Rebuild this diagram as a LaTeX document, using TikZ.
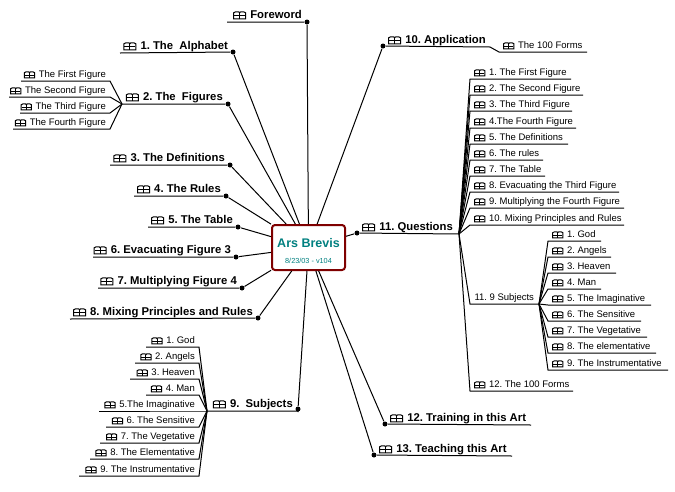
\documentclass[tikz,border=0pt]{standalone}
\usepackage{fontspec}
\setmainfont{Liberation Sans}
\frenchspacing
\definecolor{rootred}{HTML}{7F0000}
\definecolor{rootteal}{HTML}{008080}
\newcommand{\bookicon}[1][1]{\tikz[baseline=0pt,x=#1pt,y=#1pt,line width=1pt,line join=miter]{
  \draw (0,0) -- (0,6) -- (2,7) -- (5,7) -- (6,6) -- (7,7) -- (10,7) -- (12,6) -- (12,0) -- cycle;
  \draw (6,0) -- (6,6);
  \draw (.5,3) -- (11.5,3);
}\hspace{1pt}}
\tikzset{
  topic/.style={font=\fontsize{11.3}{13}\selectfont\bfseries,inner xsep=5pt,inner ysep=3pt,text depth=0pt},
  leaf/.style={font=\fontsize{9.5}{11}\selectfont,inner xsep=4pt,inner ysep=3pt,text depth=0pt},
  knob/.style={circle,fill=black,inner sep=0pt,minimum size=5pt},
  rootbox/.style={draw=rootred,line width=2pt,rounded corners=3pt,fill=white,minimum width=73pt,minimum height=45pt,inner sep=0pt},
  roottext/.style={anchor=base,text=rootteal,inner sep=0pt}
}
\begin{document}
\begin{tikzpicture}[x=1pt,y=-1pt,line width=1pt]
  \useasboundingbox (0,0) rectangle (675,491);

  \node[rootbox] (root) at (308.5,247.5) {};
  \node[roottext,font=\fontsize{12.5}{15}\selectfont\bfseries] (roottitle) at (308.5,247) {Ars Brevis};
  \node[roottext,font=\fontsize{7.3}{8}\selectfont] (rootdate) at (308.5,263) {8/23/03 - v104};

  % left side
  \node[knob] (foreword) at (307,22) {};
  \node[topic,anchor=south east] (forewordtxt) at (307,22) {\bookicon{} Foreword};
  \coordinate (forewordend) at (227,22);
  \draw (forewordend) -- (foreword) -- (root);

  \node[knob] (alphabet) at (233,52) {};
  \node[topic,anchor=south east] (alphabettxt) at (233,53) {\bookicon{} 1. The\ \ Alphabet};
  \coordinate (alphabetend) at (120,53);
  \draw (alphabetend) -- (alphabet) -- (root);

  \node[knob] (figures) at (228,104) {};
  \node[topic,anchor=south east] (figurestxt) at (228,104) {\bookicon{} 2. The\ \ Figures};
  \coordinate (forktwo) at (122,104);
  \draw (forktwo) -- (figures) -- (root);

  \node[leaf,anchor=south east] (lfa) at (110,81) {\bookicon[.85]{} The First Figure};
  \coordinate (lfaend) at (21,81);
  \draw (forktwo) -- (lfa.south east) -- (lfaend);
  \node[leaf,anchor=south east] (lfb) at (110,97) {\bookicon[.85]{} The Second Figure};
  \coordinate (lfbend) at (9,97);
  \draw (forktwo) -- (lfb.south east) -- (lfbend);
  \node[leaf,anchor=south east] (lfc) at (110,113) {\bookicon[.85]{} The Third Figure};
  \coordinate (lfcend) at (20,113);
  \draw (forktwo) -- (lfc.south east) -- (lfcend);
  \node[leaf,anchor=south east] (lfd) at (110,129) {\bookicon[.85]{} The Fourth Figure};
  \coordinate (lfdend) at (13,129);
  \draw (forktwo) -- (lfd.south east) -- (lfdend);

  \node[knob] (definitions) at (230,165) {};
  \node[topic,anchor=south east] (definitionstxt) at (230,165) {\bookicon{} 3. The Definitions};
  \coordinate (definitionsend) at (110,165);
  \draw (definitionsend) -- (definitions) -- (root);

  \node[knob] (rules) at (226,196) {};
  \node[topic,anchor=south east] (rulestxt) at (226,196) {\bookicon{} 4. The Rules};
  \coordinate (rulesend) at (134,196);
  \draw (rulesend) -- (rules) -- (root);

  \node[knob] (tablenode) at (238,227) {};
  \node[topic,anchor=south east] (tabletxt) at (238,227) {\bookicon{} 5. The Table};
  \coordinate (tableend) at (148,227);
  \draw (tableend) -- (tablenode) -- (root);

  \node[knob] (evacuating) at (236,257) {};
  \node[topic,anchor=south east] (evacuatingtxt) at (236,257) {\bookicon{} 6. Evacuating Figure 3};
  \coordinate (evacuatingend) at (93,257);
  \draw (evacuatingend) -- (evacuating) -- (root);

  \node[knob] (multiplying) at (242,288) {};
  \node[topic,anchor=south east] (multiplyingtxt) at (242,288) {\bookicon{} 7. Multiplying Figure 4};
  \coordinate (multiplyingend) at (98,288);
  \draw (multiplyingend) -- (multiplying) -- (root);

  \node[knob] (mixing) at (258,318) {};
  \node[topic,anchor=south east] (mixingtxt) at (258,319) {\bookicon{} 8. Mixing Principles and Rules};
  \coordinate (mixingend) at (70,319);
  \draw (mixingend) -- (mixing) -- (root);

  \node[knob] (subjects) at (298,409) {};
  \node[topic,anchor=south east] (subjectstxt) at (298,411) {\bookicon{} 9.\ \ Subjects};
  \coordinate (forknine) at (207,411);
  \draw (forknine) -- (subjectstxt.south east) -- (subjects) -- (root);

  \node[leaf,anchor=south east] (lsa) at (199,347) {\bookicon[.85]{} 1. God};
  \coordinate (lsaend) at (146,347);
  \draw (forknine) -- (lsa.south east) -- (lsaend);
  \node[leaf,anchor=south east] (lsb) at (199,363) {\bookicon[.85]{} 2. Angels};
  \coordinate (lsbend) at (135,363);
  \draw (forknine) -- (lsb.south east) -- (lsbend);
  \node[leaf,anchor=south east] (lsc) at (199,379) {\bookicon[.85]{} 3. Heaven};
  \coordinate (lscend) at (130,379);
  \draw (forknine) -- (lsc.south east) -- (lscend);
  \node[leaf,anchor=south east] (lsd) at (199,395) {\bookicon[.85]{} 4. Man};
  \coordinate (lsdend) at (146,395);
  \draw (forknine) -- (lsd.south east) -- (lsdend);
  \node[leaf,anchor=south east] (lse) at (199,411) {\bookicon[.85]{} 5.The Imaginative};
  \coordinate (lseend) at (99,411);
  \draw (forknine) -- (lse.south east) -- (lseend);
  \node[leaf,anchor=south east] (lsf) at (199,427) {\bookicon[.85]{} 6. The Sensitive};
  \coordinate (lsfend) at (106,427);
  \draw (forknine) -- (lsf.south east) -- (lsfend);
  \node[leaf,anchor=south east] (lsg) at (199,443) {\bookicon[.85]{} 7. The Vegetative};
  \coordinate (lsgend) at (100,443);
  \draw (forknine) -- (lsg.south east) -- (lsgend);
  \node[leaf,anchor=south east] (lsh) at (199,459) {\bookicon[.85]{} 8. The Elementative};
  \coordinate (lshend) at (90,459);
  \draw (forknine) -- (lsh.south east) -- (lshend);
  \node[leaf,anchor=south east] (lsi) at (199,476) {\bookicon[.85]{} 9. The Instrumentative};
  \coordinate (lsiend) at (79,476);
  \draw (forknine) -- (lsi.south east) -- (lsiend);

  % right side
  \node[knob] (application) at (383,46) {};
  \node[topic,anchor=south west] (applicationtxt) at (383,47) {\bookicon{} 10. Application};
  \coordinate (applicationend) at (490,47);
  \draw (root) -- (application) -- (applicationend);
  \node[leaf,anchor=south west] (raa) at (499,52) {\bookicon[.85]{} The 100 Forms};
  \coordinate (raaend) at (587,52);
  \draw (applicationend) -- (raa.south west) -- (raaend);

  \node[knob] (questions) at (357,233) {};
  \node[topic,anchor=south west] (questionstxt) at (357,234) {\bookicon{} 11. Questions};
  \coordinate (forkeleven) at (459,234);
  \draw (root) -- (questions) -- (forkeleven);

  \node[leaf,anchor=south west] (rqa) at (470,79) {\bookicon[.85]{} 1. The First Figure};
  \coordinate (rqaend) at (571,79);
  \draw (forkeleven) -- (rqa.south west) -- (rqaend);
  \node[leaf,anchor=south west] (rqb) at (470,95) {\bookicon[.85]{} 2. The Second Figure};
  \coordinate (rqbend) at (583,95);
  \draw (forkeleven) -- (rqb.south west) -- (rqbend);
  \node[leaf,anchor=south west] (rqc) at (470,111) {\bookicon[.85]{} 3. The Third Figure};
  \coordinate (rqcend) at (572,111);
  \draw (forkeleven) -- (rqc.south west) -- (rqcend);
  \node[leaf,anchor=south west] (rqd) at (470,128) {\bookicon[.85]{} 4.The Fourth Figure};
  \coordinate (rqdend) at (576,128);
  \draw (forkeleven) -- (rqd.south west) -- (rqdend);
  \node[leaf,anchor=south west] (rqe) at (470,144) {\bookicon[.85]{} 5. The Definitions};
  \coordinate (rqeend) at (568,144);
  \draw (forkeleven) -- (rqe.south west) -- (rqeend);
  \node[leaf,anchor=south west] (rqf) at (470,160) {\bookicon[.85]{} 6. The rules};
  \coordinate (rqfend) at (543,160);
  \draw (forkeleven) -- (rqf.south west) -- (rqfend);
  \node[leaf,anchor=south west] (rqg) at (470,176) {\bookicon[.85]{} 7. The Table};
  \coordinate (rqgend) at (545,176);
  \draw (forkeleven) -- (rqg.south west) -- (rqgend);
  \node[leaf,anchor=south west] (rqh) at (470,192) {\bookicon[.85]{} 8. Evacuating the Third Figure};
  \coordinate (rqhend) at (619,192);
  \draw (forkeleven) -- (rqh.south west) -- (rqhend);
  \node[leaf,anchor=south west] (rqi) at (470,208) {\bookicon[.85]{} 9. Multiplying the Fourth Figure};
  \coordinate (rqiend) at (624,208);
  \draw (forkeleven) -- (rqi.south west) -- (rqiend);
  \node[leaf,anchor=south west] (rqj) at (470,225) {\bookicon[.85]{} 10. Mixing Principles and Rules};
  \coordinate (rqjend) at (624,225);
  \draw (forkeleven) -- (rqj.south west) -- (rqjend);
  \node[leaf,anchor=south west] (rqk) at (470,304) {11. 9 Subjects};
  \coordinate (forksub) at (539,304);
  \draw (forkeleven) -- (rqk.south west) -- (forksub);
  \node[leaf,anchor=south west] (rql) at (470,391) {\bookicon[.85]{} 12. The 100 Forms};
  \coordinate (rqlend) at (573,391);
  \draw (forkeleven) -- (rql.south west) -- (rqlend);

  \node[leaf,anchor=south west] (rsa) at (548,241) {\bookicon[.85]{} 1. God};
  \coordinate (rsaend) at (601,241);
  \draw (forksub) -- (rsa.south west) -- (rsaend);
  \node[leaf,anchor=south west] (rsb) at (548,257) {\bookicon[.85]{} 2. Angels};
  \coordinate (rsbend) at (611,257);
  \draw (forksub) -- (rsb.south west) -- (rsbend);
  \node[leaf,anchor=south west] (rsc) at (548,273) {\bookicon[.85]{} 3. Heaven};
  \coordinate (rscend) at (616,273);
  \draw (forksub) -- (rsc.south west) -- (rscend);
  \node[leaf,anchor=south west] (rsd) at (548,289) {\bookicon[.85]{} 4. Man};
  \coordinate (rsdend) at (601,289);
  \draw (forksub) -- (rsd.south west) -- (rsdend);
  \node[leaf,anchor=south west] (rse) at (548,305) {\bookicon[.85]{} 5. The Imaginative};
  \coordinate (rseend) at (651,305);
  \draw (forksub) -- (rse.south west) -- (rseend);
  \node[leaf,anchor=south west] (rsf) at (548,321) {\bookicon[.85]{} 6. The Sensitive};
  \coordinate (rsfend) at (641,321);
  \draw (forksub) -- (rsf.south west) -- (rsfend);
  \node[leaf,anchor=south west] (rsg) at (548,337) {\bookicon[.85]{} 7. The Vegetative};
  \coordinate (rsgend) at (647,337);
  \draw (forksub) -- (rsg.south west) -- (rsgend);
  \node[leaf,anchor=south west] (rsh) at (548,353) {\bookicon[.85]{} 8. The elementative};
  \coordinate (rshend) at (656,353);
  \draw (forksub) -- (rsh.south west) -- (rshend);
  \node[leaf,anchor=south west] (rsi) at (548,370) {\bookicon[.85]{} 9. The Instrumentative};
  \coordinate (rsiend) at (668,370);
  \draw (forksub) -- (rsi.south west) -- (rsiend);

  \node[knob] (training) at (385,424) {};
  \node[topic,anchor=south west] (trainingtxt) at (385,425) {\bookicon{} 12. Training in this Art};
  \coordinate (trainingend) at (531,425);
  \draw (root) -- (training) -- (trainingend);

  \node[knob] (teaching) at (374,455) {};
  \node[topic,anchor=south west] (teachingtxt) at (374,456) {\bookicon{} 13. Teaching this Art};
  \coordinate (teachingend) at (512,456);
  \draw (root) -- (teaching) -- (teachingend);
\end{tikzpicture}
\end{document}
